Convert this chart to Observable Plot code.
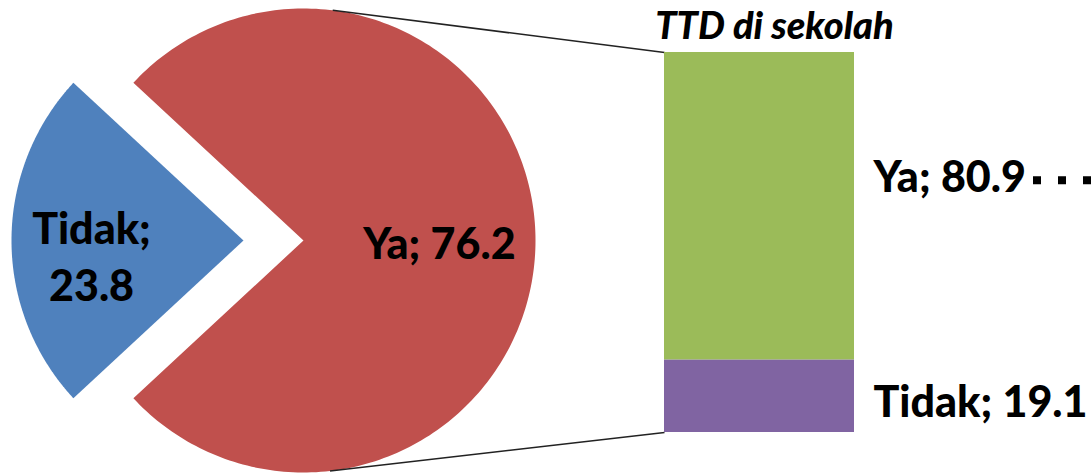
<!DOCTYPE html>
<html><head><meta charset="utf-8">
<script src="https://cdn.jsdelivr.net/npm/d3@7"></script>
<script src="https://cdn.jsdelivr.net/npm/@observablehq/plot@0.6"></script>
<style>html,body{margin:0;padding:0;background:#fff;overflow:hidden}</style>
</head><body><div id="chart"></div>
<script>
// ---- data ----
const title = "TTD di sekolah";
const pieCategories = ["Ya", "Tidak"];
const pieValues = [76.2, 23.8];
const pieColors = ["#C0504D", "#4F81BD"];
const barCategories = ["Tidak", "Ya"]; // bottom to top
const barValues = [19.1, 80.9];
const barColors = ["#8064A2", "#9BBB59"];

// ---- layout (pie units, radius = 1) ----
const W = 1091, H = 475, R = 232;
const cxPx = 303, cyPx = 240;
const xDomain = [-cxPx / R, (W - cxPx) / R];
const yDomain = [-(H - cyPx) / R, cyPx / R];
const explode = 60 / R;
const bar = {x1: (664 - cxPx) / R, x2: (854 - cxPx) / R, y1: (cyPx - 432) / R, y2: (cyPx - 52) / R};
const pieLabelR = {Ya: 0.586, Tidak: 0.655};
const FONT = 43;
const WEIGHT = 900;

// ---- pie geometry ----
const total = d3.sum(pieValues);
const tidakFrac = pieValues[1] / total;
const start = 1.5 * Math.PI - 2 * Math.PI * (1 - tidakFrac / 2);
const arcs = d3.pie().sort(null).startAngle(start).endAngle(start + 2 * Math.PI)(pieValues);
const slices = arcs.map((a, i) => {
  const cat = pieCategories[i];
  const mid = (a.startAngle + a.endAngle) / 2;
  const off = cat === "Tidak" ? explode : 0;
  const ox = off * Math.sin(mid), oy = off * Math.cos(mid);
  const pts = [{x: ox, y: oy}];
  const n = 240;
  for (let j = 0; j <= n; j++) {
    const t = a.startAngle + (a.endAngle - a.startAngle) * j / n;
    pts.push({x: ox + Math.sin(t), y: oy + Math.cos(t)});
  }
  pts.push({x: ox, y: oy});
  const lr = pieLabelR[cat];
  return {cat, value: pieValues[i], color: pieColors[i], pts,
          lx: ox + lr * Math.sin(mid), ly: oy + lr * Math.cos(mid)};
});

// ---- bar geometry ----
const barTotal = d3.sum(barValues);
const yb = v => bar.y1 + (bar.y2 - bar.y1) * v / barTotal;
let cum = 0;
const barRows = barCategories.map((c, i) => {
  const lo = cum; cum += barValues[i];
  return {cat: c, value: barValues[i], lo, hi: cum, color: barColors[i], mid: (lo + cum) / 2};
});

// ---- connectors: tangent from bar corners to pie circle ----
function tangent(px, py, sign) {
  const d = Math.hypot(px, py), phi = Math.atan2(py, px), a = Math.acos(1 / d);
  const t = phi + sign * a;
  return {x: Math.cos(t), y: Math.sin(t)};
}
const tTop = tangent(bar.x1, bar.y2, 1), tBot = tangent(bar.x1, bar.y1, -1);
const connectors = [
  {x1: tTop.x, y1: tTop.y, x2: bar.x1, y2: bar.y2},
  {x1: tBot.x, y1: tBot.y, x2: bar.x1, y2: bar.y1}
];

const fmt = d => `${d.cat}; ${d.value}`;
const ya = barRows.find(d => d.cat === "Ya");
const tidak = barRows.find(d => d.cat === "Tidak");
const yaPie = slices.find(d => d.cat === "Ya");
const tidakPie = slices.find(d => d.cat === "Tidak");
const labelX = bar.x2 + 19 / R;

const chart = Plot.plot({
  width: W, height: H, margin: 0,
  x: {domain: xDomain, axis: null},
  y: {domain: yDomain, axis: null},
  color: {type: "identity"},
  style: {fontFamily: "Lato, 'Open Sans', sans-serif", background: "white", overflow: "hidden"},
  marks: [
    ...slices.map(s => Plot.line(s.pts, {x: "x", y: "y", fill: s.color, stroke: "none"})),
    Plot.link(connectors, {x1: "x1", y1: "y1", x2: "x2", y2: "y2", stroke: "#222", strokeWidth: 1.5}),
    Plot.rect(barRows, {x1: () => bar.x1, x2: () => bar.x2, y1: d => yb(d.lo), y2: d => yb(d.hi), fill: "color"}),
    Plot.text([yaPie], {x: "lx", y: "ly", text: fmt, fontSize: FONT, fontWeight: WEIGHT, textAnchor: "middle", lineAnchor: "middle", dy: 5, fill: "black"}),
    Plot.text([tidakPie], {x: "lx", y: "ly", text: d => `${d.cat};\n${d.value}`, fontSize: FONT, fontWeight: WEIGHT, textAnchor: "middle", lineAnchor: "middle", lineHeight: 1.33, dy: 14, fill: "black"}),
    Plot.text([ya], {x: () => labelX, y: d => yb(d.mid), text: fmt, fontSize: FONT, fontWeight: WEIGHT, textAnchor: "start", lineAnchor: "middle", dy: -28, fill: "black"}),
    Plot.text([tidak], {x: () => labelX, y: d => yb(d.mid), text: fmt, fontSize: FONT, fontWeight: WEIGHT, textAnchor: "start", lineAnchor: "middle", dy: 7, fill: "black"}),
    Plot.ruleY([ya], {y: d => yb(d.mid), x1: () => (1033 - cxPx) / R, x2: () => xDomain[1] + 0.2, dy: -26, stroke: "black", strokeWidth: 8, strokeDasharray: "8 17"}),
    Plot.text([title], {x: () => bar.x1 + (bar.x2 - bar.x1) / 2 + 15 / R, y: () => (cyPx - 38) / R, text: d => d, fontSize: 38, fontWeight: WEIGHT, fontStyle: "italic", textAnchor: "middle", lineAnchor: "bottom", fill: "black"})
  ]
});
document.getElementById("chart").appendChild(chart);
</script>
</body></html>
